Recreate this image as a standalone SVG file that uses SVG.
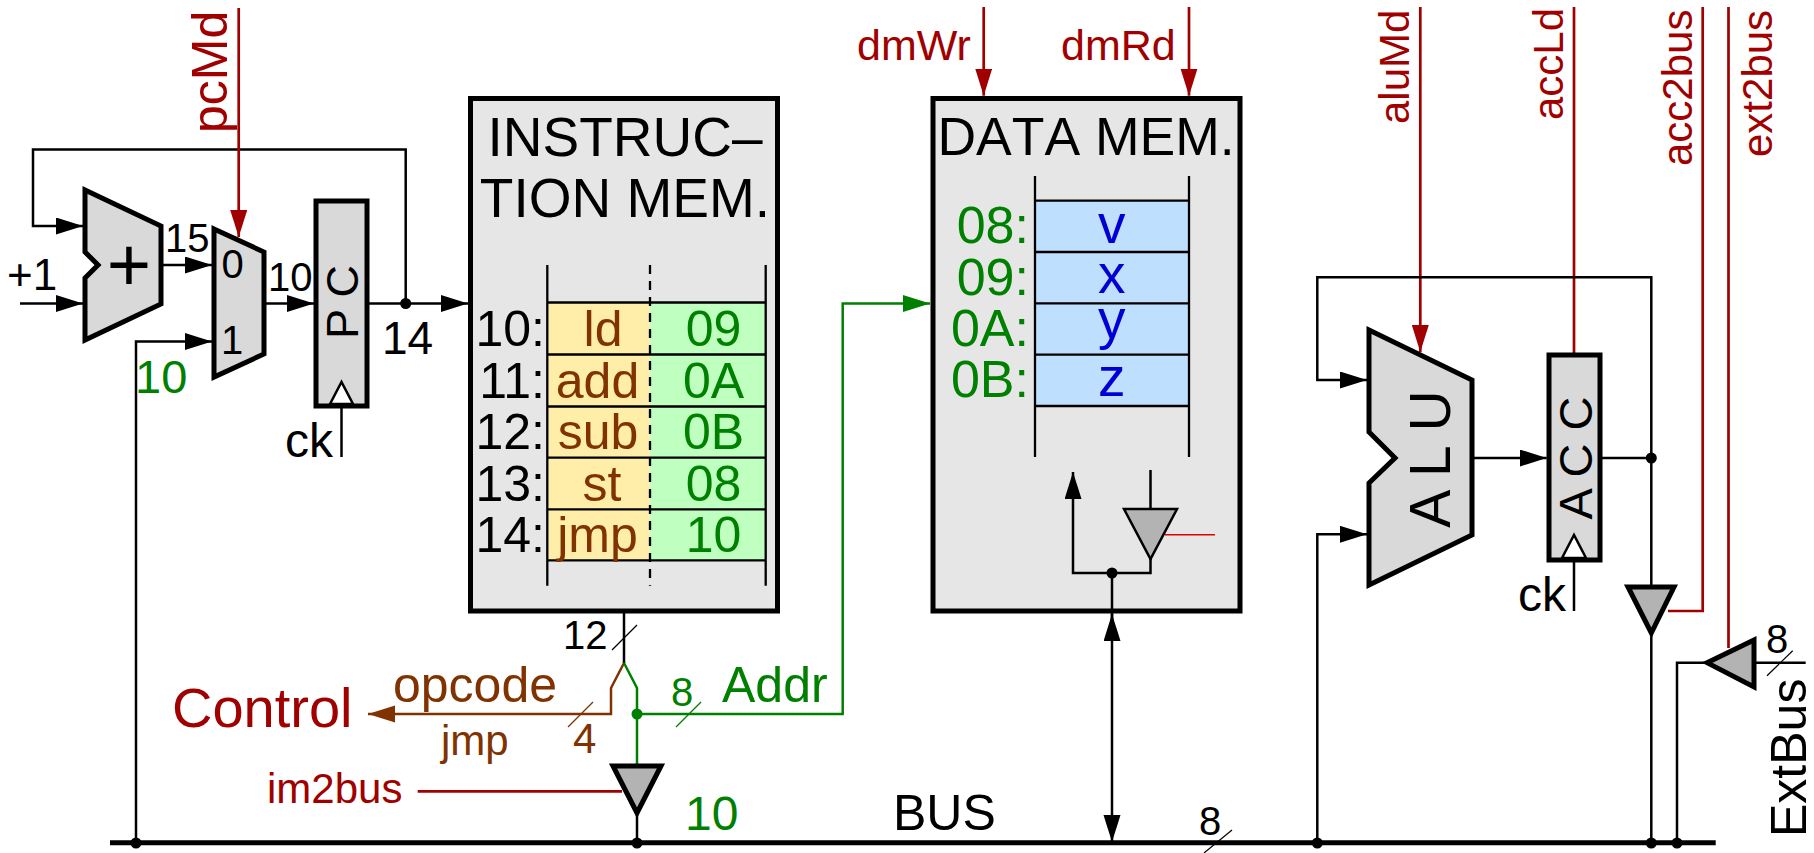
<svg xmlns="http://www.w3.org/2000/svg" width="1814" height="853" viewBox="0 0 1814 853">
<style>
text{font-family:"Liberation Sans",Arial,sans-serif;font-size:50px;fill:#000}
.w{fill:none;stroke:#000;stroke-width:2.5}
.r{fill:none;stroke:#a00000;stroke-width:2.7}
.g{fill:none;stroke:#008000;stroke-width:2.5}
.b{fill:none;stroke:#803300;stroke-width:2.5}
.s{fill:none;stroke:#000;stroke-width:1.2}
.blk{fill:#d9d9d9;stroke:#000;stroke-width:5}
.mem{fill:#e6e6e6;stroke:#000;stroke-width:5}
.tri{fill:#b3b3b3;stroke:#000;stroke-width:5}
.ckt{fill:#fff;stroke:#000;stroke-width:2.5}
.tl{fill:none;stroke:#000;stroke-width:2.3}
.red{fill:#a00000}.grn{fill:#008000}.brn{fill:#803300}.blu{fill:#0000d4}
.m{text-anchor:middle}.e{text-anchor:end}
.t{font-size:55px}.f40{font-size:40px}.f42{font-size:42px}.d{font-size:52px}.v{font-size:55px}
</style>
<defs>
<marker id="ak" markerUnits="userSpaceOnUse" markerWidth="28" markerHeight="18" refX="27" refY="8.5" orient="auto"><path d="M0,0L27,8.5L0,17z" fill="#000"/></marker>
<marker id="ar" markerUnits="userSpaceOnUse" markerWidth="28" markerHeight="18" refX="27" refY="8.5" orient="auto"><path d="M0,0L27,8.5L0,17z" fill="#a00000"/></marker>
<marker id="ag" markerUnits="userSpaceOnUse" markerWidth="28" markerHeight="18" refX="27" refY="8.5" orient="auto"><path d="M0,0L27,8.5L0,17z" fill="#008000"/></marker>
<marker id="ab" markerUnits="userSpaceOnUse" markerWidth="28" markerHeight="18" refX="27" refY="8.5" orient="auto"><path d="M0,0L27,8.5L0,17z" fill="#803300"/></marker>
</defs>

<g id="instruction-memory">
<rect class="mem" x="470.5" y="98.5" width="307" height="512.5"/>
<text class="m t" x="625" y="156">INSTRUC–</text>
<text class="m t" x="625" y="217">TION MEM.</text>
<rect x="547.3" y="302.5" width="102.7" height="258" fill="#ffeeaa"/>
<rect x="650" y="302.5" width="115.7" height="258" fill="#bfffbf"/>
<path class="tl" d="M547.3,265V585.7M765.7,265V585.7M547.3,302.5H765.7M547.3,354.5H765.7M547.3,406.5H765.7M547.3,457.7H765.7M547.3,509.3H765.7M547.3,560.3H765.7"/>
<path class="tl" d="M650,265V585.7" stroke-dasharray="9,7"/>
<text class="e" x="545" y="346">10:</text><text class="e" x="545" y="398">11:</text><text class="e" x="545" y="449">12:</text><text class="e" x="545" y="501">13:</text><text class="e" x="545" y="552">14:</text>
<text class="m brn" x="603" y="346">ld</text><text class="m brn" x="597.5" y="398">add</text><text class="m brn" x="598" y="449">sub</text><text class="m brn" x="602" y="501">st</text><text class="m brn" x="597.5" y="552">jmp</text>
<text class="m grn" x="713.5" y="346">09</text><text class="m grn" x="713.5" y="398">0A</text><text class="m grn" x="713.5" y="449">0B</text><text class="m grn" x="713.5" y="501">08</text><text class="m grn" x="713.5" y="552">10</text>
</g>

<g id="data-memory">
<rect class="mem" x="933" y="98.5" width="307" height="512.5"/>
<text class="m" x="1086" y="155" style="font-size:53.5px;font-kerning:none">DATA MEM.</text>
<rect x="1035" y="200.7" width="154" height="205.3" fill="#bfdfff"/>
<path class="tl" d="M1035,176V457M1189,176V457M1035,200.7H1189M1035,252H1189M1035,303.3H1189M1035,354.7H1189M1035,406H1189"/>
<text class="e grn d" x="1029" y="243">08:</text><text class="e grn d" x="1029" y="295">09:</text><text class="e grn d" x="1029" y="346">0A:</text><text class="e grn d" x="1029" y="397">0B:</text>
<text class="m blu v" x="1111.7" y="243">v</text><text class="m blu v" x="1111.7" y="293">x</text><text class="m blu v" x="1111.7" y="338">y</text><text class="m blu v" x="1111.7" y="396">z</text>
<path class="w" d="M1150.5,470V509M1150.5,559V573H1073V472" marker-end="url(#ak)"/>
<path d="M1165,534.7H1215" fill="none" stroke="#e00000" stroke-width="1.5"/>
<polygon points="1124,509 1177,509 1150.5,559" fill="#b3b3b3" stroke="#000" stroke-width="2.5"/>
</g>

<g id="connectors">
<path class="w" d="M20,303.5H83" marker-end="url(#ak)"/>
<path class="w" d="M405.7,303.5V149.5H33V226H83" marker-end="url(#ak)"/>
<path class="w" d="M163,265H212" marker-end="url(#ak)"/>
<path class="w" d="M266,303.5H314" marker-end="url(#ak)"/>
<path class="w" d="M369,303.5H468" marker-end="url(#ak)"/>
<path class="w" d="M136,842V341.5H212" marker-end="url(#ak)"/>
<path class="r" d="M238.7,8V237" marker-end="url(#ar)"/>
<path class="w" d="M341.5,408V457"/>
<path class="w" d="M624,613V663"/>
<path class="b" d="M624,663L611,688V714H368" marker-end="url(#ab)"/>
<path class="g" d="M624,663L637,688V765"/>
<path class="g" d="M637,714H842.7V303.5H930" marker-end="url(#ag)"/>
<path class="r" d="M417.7,791.3H622"/>
<path class="w" d="M637,813V842"/>
<path d="M110,842.7H1715.7" fill="none" stroke="#000" stroke-width="5"/>
<path class="w" d="M1112,573V815"/>
<path class="w" d="M1112,640V614" marker-end="url(#ak)"/>
<path class="w" d="M1112,815V842" marker-end="url(#ak)"/>
<path class="r" d="M983.7,7V95.7" marker-end="url(#ar)"/>
<path class="r" d="M1189,7V95.7" marker-end="url(#ar)"/>
<path class="r" d="M1420.3,7V352" marker-end="url(#ar)"/>
<path class="r" d="M1574,7V355"/>
<path class="r" d="M1668,611H1702.7V7"/>
<path class="r" d="M1728.5,7V648"/>
<path class="w" d="M1651.3,587V277.3H1317.3V380H1367" marker-end="url(#ak)"/>
<path class="w" d="M1317.3,842V534.3H1367" marker-end="url(#ak)"/>
<path class="w" d="M1474,458H1546.7" marker-end="url(#ak)"/>
<path class="w" d="M1600,458H1651.3"/>
<path class="w" d="M1574,560V611"/>
<path class="w" d="M1651.3,633V842"/>
<path class="w" d="M1707,662.7H1677V842"/>
<path class="w" d="M1754,662.7H1805.7"/>
<path class="s" d="M612,650L637,625"/>
<path class="s" d="M568,727L593,702" style="stroke:#803300"/>
<path class="s" d="M676,727L701,702" style="stroke:#008000"/>
<path class="s" d="M1204,853L1232,830"/>
<path class="s" d="M1767,675.7L1792.7,650.7"/>
<circle cx="405.7" cy="303.5" r="5.5"/>
<circle cx="637" cy="714" r="5.5" fill="#008000"/>
<circle cx="1112" cy="573" r="5.5"/>
<circle cx="136" cy="843" r="5.5"/>
<circle cx="637" cy="843" r="5.5"/>
<circle cx="1317.3" cy="843" r="5.5"/>
<circle cx="1651.3" cy="843" r="5.5"/>
<circle cx="1677" cy="843" r="5.5"/>
<circle cx="1651.3" cy="458" r="5.5"/>
</g>

<g id="adder">
<polygon class="blk" points="85,190 161,226 161,304 85,340 85,278 98,265 85,252"/>
<text class="m" x="129" y="291" style="font-size:76px">+</text>
</g>
<g id="pc-mux">
<polygon class="blk" points="214,229 264,252 264,354 214,377"/>
<text class="m f40" x="232.5" y="278">0</text>
<text class="m f40" x="232" y="354">1</text>
</g>
<g id="pc">
<rect class="blk" x="316" y="201" width="51" height="205"/>
<polygon class="ckt" points="330,404 341.5,382 353,404"/>
<text class="m" transform="translate(358,302) rotate(-90)" style="font-size:45px">P C</text>
</g>
<g id="alu">
<polygon class="blk" points="1369,330 1472,380 1472,535 1369,585 1369,483 1395,458 1369,432"/>
<text class="m" transform="translate(1450,459) rotate(-90)" style="font-size:57px">A L U</text>
</g>
<g id="acc">
<rect class="blk" x="1549" y="355" width="51" height="205"/>
<polygon class="ckt" points="1562,558 1574,535 1586,558"/>
<text class="m" transform="translate(1592,458) rotate(-90)" style="font-size:47px">A C C</text>
</g>
<g id="tristate-im"><polygon class="tri" points="613,766 661,766 637,813"/></g>
<g id="tristate-acc"><polygon class="tri" points="1628,587 1674,587 1651.3,633"/></g>
<g id="tristate-ext"><polygon class="tri" points="1707,662.7 1754,640 1754,687"/></g>

<g id="labels">
<text class="red" transform="translate(226.7,133) rotate(-90)">pcMd</text>
<text x="7" y="290" style="font-size:44px">+1</text>
<text class="f40" x="165" y="252">15</text>
<text class="f40" x="268" y="291">10</text>
<text x="382" y="354" style="font-size:46px">14</text>
<text class="grn" x="135" y="393" style="font-size:47px">10</text>
<text x="285" y="457" style="font-size:48px">ck</text>
<text x="1518" y="611" style="font-size:48px">ck</text>
<text class="f40" x="563" y="649">12</text>
<text class="brn" x="393" y="701.7">opcode</text>
<text class="brn f42" x="441" y="755">jmp</text>
<text class="brn f42" x="573" y="753">4</text>
<text class="grn f40" x="671" y="706">8</text>
<text class="grn" x="722" y="702">Addr</text>
<text class="red" x="172" y="727" style="font-size:56px">Control</text>
<text class="red f42" x="267" y="803">im2bus</text>
<text class="grn" x="685" y="830" style="font-size:48px">10</text>
<text x="893" y="830">BUS</text>
<text class="f40" x="1199" y="835">8</text>
<text class="red" x="857" y="60" style="font-size:43px">dmWr</text>
<text class="red" x="1061" y="60" style="font-size:43px">dmRd</text>
<text class="red f42" transform="translate(1409,124) rotate(-90)">aluMd</text>
<text class="red f42" transform="translate(1562.7,120) rotate(-90)">accLd</text>
<text class="red f42" transform="translate(1691.7,166) rotate(-90)">acc2bus</text>
<text class="red f42" transform="translate(1772,157) rotate(-90)">ext2bus</text>
<text class="f40" x="1766" y="653">8</text>
<text transform="translate(1806,837) rotate(-90)">ExtBus</text>
</g>
</svg>
